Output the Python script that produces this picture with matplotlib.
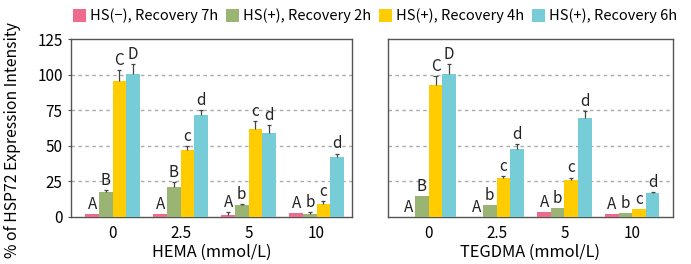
import numpy as np
import matplotlib.pyplot as plt

plt.rcParams['font.family'] = ['Noto Sans CJK KR', 'DejaVu Sans']

# # Data
conc_labels = ['0', '2.5', '5', '10']
series_names = ['HS(\u2212), Recovery 7h', 'HS(+), Recovery 2h',
                'HS(+), Recovery 4h', 'HS(+), Recovery 6h']
colors = ['#EE6B8E', '#9AB573', '#FFCC00', '#76CDD8']

hema_vals = [[2.0, 2.0, 1.2, 2.6],
             [17.3, 20.8, 8.2, 2.1],
             [95.3, 46.8, 61.6, 9.1],
             [100.2, 71.4, 58.8, 41.9]]
hema_err = [[0, 0, 2.0, 0],
            [1.2, 3.5, 1.0, 1.0],
            [8.0, 2.8, 5.6, 2.0],
            [7.5, 4.0, 5.6, 2.6]]
hema_letters = [['A', 'A', 'A', 'A'],
                ['B', 'B', 'b', 'b'],
                ['C', 'c', 'c', 'c'],
                ['D', 'd', 'd', 'd']]

tegdma_vals = [[0.0, 0.0, 3.3, 1.9],
               [14.8, 8.2, 6.1, 2.6],
               [92.5, 27.4, 25.8, 5.4],
               [100.2, 47.5, 69.3, 16.6]]
tegdma_err = [[0, 0, 0, 0],
              [0, 0, 0, 0],
              [6.3, 1.2, 1.8, 0],
              [7.5, 3.5, 4.9, 0.7]]
tegdma_letters = [['A', 'A', 'A', 'A'],
                  ['B', 'b', 'b', 'b'],
                  ['C', 'c', 'c', 'c'],
                  ['D', 'd', 'd', 'd']]

fig = plt.figure(figsize=(6.91, 2.64), dpi=100)
ax1 = fig.add_axes([71 / 691, 1 - 216.7 / 264, 281 / 691, 177.4 / 264])
ax2 = fig.add_axes([388 / 691, 1 - 216.7 / 264, 285 / 691, 177.4 / 264])

x = np.arange(len(conc_labels))
w = 0.2


def draw_panel(ax, vals, errs, letters, xlabel, xlim):
    for i in range(4):
        pos = x + (i - 1.5) * w
        ax.bar(pos, vals[i], width=w, color=colors[i], zorder=3,
               label=series_names[i])
        v = np.array(vals[i])
        e = np.array(errs[i])
        has = e > 0
        # upper-only error bars: stem + cap
        ax.vlines(pos[has], v[has], v[has] + e[has], color='#444444',
                  lw=0.9, zorder=4)
        ax.hlines(v[has] + e[has], pos[has] - 0.03, pos[has] + 0.03,
                  color='#444444', lw=0.9, zorder=4)
        for j, p in enumerate(pos):
            top = vals[i][j] + errs[i][j]
            ax.text(p, top + 0.8, letters[i][j], ha='center', va='bottom',
                    fontsize=11, color='#222222', zorder=5)
    ax.set_ylim(0, 125)
    ax.set_xlim(*xlim)
    ax.set_yticks([0, 25, 50, 75, 100, 125])
    ax.set_xticks(x)
    ax.set_xticklabels(conc_labels)
    ax.tick_params(axis='x', length=0, labelsize=11, pad=6)
    ax.tick_params(axis='y', length=2.5, labelsize=11, color='#555555')
    for yv in [25, 50, 75, 100]:
        ax.axhline(yv, color='#aaaaaa', lw=1, ls=(0, (2.5, 2.5)), zorder=1)
    for s in ax.spines.values():
        s.set_color('#555555')
        s.set_linewidth(1.0)
    ax.set_xlabel(xlabel, fontsize=11.8, labelpad=1)


draw_panel(ax1, hema_vals, hema_err, hema_letters, 'HEMA (mmol/L)', (-0.61, 3.52))
draw_panel(ax2, tegdma_vals, tegdma_err, tegdma_letters, 'TEGDMA (mmol/L)', (-0.6, 3.6))
ax2.set_yticklabels([])
ax2.tick_params(axis='y', length=0)

ax1.set_ylabel('% of HSP72 Expression Intensity', fontsize=11.3)
ax1.yaxis.set_label_coords(-50 / 281, 0.43)

handles, labels = ax1.get_legend_handles_labels()
fig.legend(handles, labels, loc='upper left', bbox_to_anchor=(64 / 691, 1.0),
           ncol=4, frameon=False, fontsize=10.5, handlelength=0.9,
           handleheight=0.9, handletextpad=0.3, columnspacing=0.5,
           borderaxespad=0.2)

plt.savefig('out.png', dpi=100)
